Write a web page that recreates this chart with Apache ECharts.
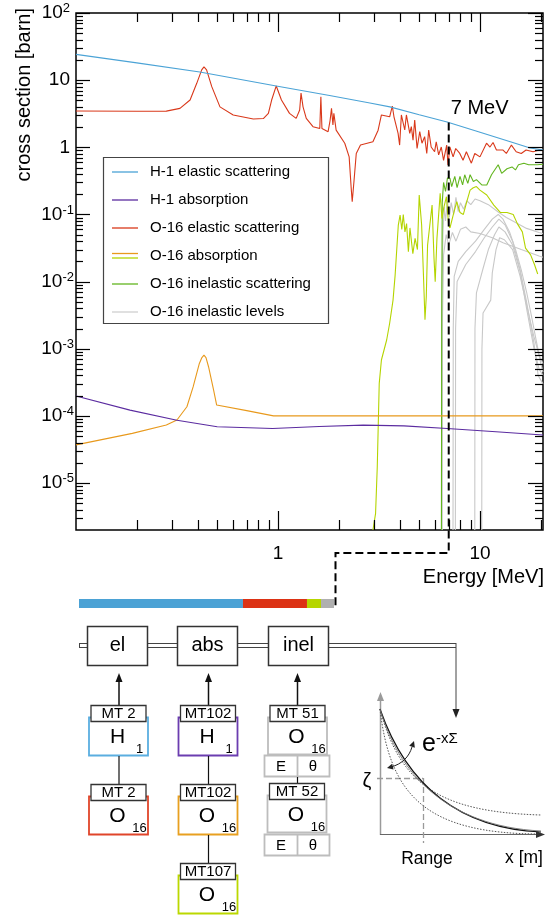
<!DOCTYPE html>
<html><head><meta charset="utf-8">
<script src="https://cdn.jsdelivr.net/npm/echarts@6/dist/echarts.min.js"></script>
<style>html,body{margin:0;padding:0;background:#fff;}#c,#t{position:absolute;left:0;top:0;width:546px;height:916px;}#t{pointer-events:none;}</style>
</head><body><div id="c"></div><div id="t"></div>
<script>
const FONT = '"Liberation Sans", Arial, Helvetica, sans-serif';

// ---------------- data (energy [MeV], cross section [barn]) ----------------
const h1Elastic = [[0.1,24.2],[0.2,18.1],[0.41,13.2],[0.98,8.2],[1.8,5.9],[2.85,4.57],[3.58,4.0],[5,3.06],[6.87,2.38],[10,1.67],[14,1.22],[17.7,0.975],[20.5,0.91]];
const h1Absorption = [[0.1,1.98e-4],[0.185,1.22e-4],[0.316,8.6e-5],[0.5,6.9e-5],[0.94,6.5e-5],[1.6,6.95e-5],[2.64,7.3e-5],[4.2,7.1e-5],[6.87,6.5e-5],[12,5.8e-5],[20.5,5.2e-5]];
const o16Elastic = [[0.1,3.47],[0.2,3.44],[0.28,3.46],[0.327,3.8],[0.367,5.06],[0.396,8.97],[0.419,14.2],[0.43,15.8],[0.443,14.2],[0.47,8.0],[0.516,4.0],[0.6,3.03],[0.755,2.64],[0.846,2.68],[0.896,3.2],[0.93,5.06],[0.98,8.2],[1.04,5.06],[1.14,3.2],[1.23,2.7],[1.28,3.6],[1.30,6.4],[1.33,4.0],[1.38,2.7],[1.49,2.03],[1.61,1.9],[1.63,5.66],[1.65,1.9],[1.77,1.71],[1.81,2.5],[1.84,3.8],[1.87,2.16],[1.89,3.2],[1.94,1.8],[2.14,1.15],[2.25,0.72],[2.30,0.26],[2.33,0.155],[2.38,0.326],[2.44,0.81],[2.56,1.08],[2.95,1.21],[3.13,1.8],[3.25,3.03],[3.57,2.85],[3.68,4.12],[3.75,2.85],[3.93,1.61],[4.0,1.08],[4.08,3.03],[4.24,1.81],[4.32,3.03],[4.49,1.61],[4.57,2.03],[4.66,1.28],[4.75,2.55],[4.88,0.96],[5.03,1.71],[5.16,1.15],[5.32,1.44],[5.45,0.81],[5.57,1.8],[5.73,1.01],[5.96,0.86],[6.07,1.21],[6.24,0.77],[6.43,1.01],[6.6,0.64],[6.84,1.08],[6.94,0.546],[7.09,1.01],[7.36,0.72],[7.58,0.96],[7.94,0.81],[8.24,0.64],[8.56,0.86],[9.06,0.58],[9.42,0.81],[9.99,0.72],[10.77,1.15],[11.2,1.01],[11.6,1.18],[12.06,0.91],[13.0,0.91],[13.5,0.81],[14.3,1.08],[15.1,0.86],[16.0,0.81],[16.9,0.91],[18.3,0.86],[19.7,0.91],[20.5,0.89]];
const o16Capture = [[0.1,3.7e-5],[0.19,5.5e-5],[0.28,7.3e-5],[0.316,8.7e-5],[0.354,1.37e-4],[0.38,2.7e-4],[0.408,6.05e-4],[0.42,7.4e-4],[0.43,8.05e-4],[0.44,7.4e-4],[0.453,5.4e-4],[0.48,2.43e-4],[0.497,1.45e-4],[0.7,1.2e-4],[0.95,1.0e-4],[2,1.0e-4],[5,1.0e-4],[10,1.0e-4],[20.5,1.0e-4]];
const o16Alpha = [[2.95,2e-6],[3.04,3.5e-6],[3.1,1.75e-5],[3.17,3.05e-4],[3.25,6.8e-4],[3.45,1.35e-3],[3.57,2.4e-3],[3.71,5.3e-3],[3.8,0.0125],[3.94,0.0695],[4.02,0.098],[4.1,0.06],[4.17,0.1],[4.25,0.055],[4.33,0.073],[4.42,0.0279],[4.5,0.063],[4.65,0.026],[4.77,0.044],[4.9,0.03],[5.0,0.195],[5.14,0.0695],[5.25,0.012],[5.34,0.0027],[5.42,0.006],[5.5,0.035],[5.56,0.035],[5.79,0.138],[5.92,0.022],[6.0,0.01],[6.12,0.044],[6.35,0.206],[6.48,0.0868],[6.61,0.124],[6.82,0.184],[6.99,0.0695],[7.1,0.063],[7.38,0.1],[7.67,0.155],[7.96,0.107],[8.27,0.1],[8.6,0.155],[8.93,0.23],[9.26,0.25],[9.6,0.26],[9.99,0.23],[10.8,0.195],[11.7,0.138],[12.6,0.107],[13.6,0.107],[14.6,0.1],[15.3,0.073],[16.2,0.055],[16.8,0.0315],[17.8,0.025],[18.6,0.018],[19.3,0.013]];
const o16Inelastic = [[6.44,2e-6],[6.46,2e-3],[6.5,0.15],[6.6,0.3],[6.75,0.22],[6.9,0.35],[7.1,0.345],[7.24,0.26],[7.5,0.37],[7.7,0.25],[7.96,0.37],[8.2,0.275],[8.4,0.39],[8.7,0.29],[8.93,0.39],[9.27,0.31],[9.6,0.33],[10.2,0.275],[10.8,0.275],[11.4,0.39],[12.3,0.55],[12.8,0.41],[13.6,0.48],[14.4,0.51],[14.98,0.46],[15.5,0.55],[16.5,0.58],[17.4,0.55],[19.2,0.55],[20.5,0.56]];
const o16Level1 = [[6.45,2e-6],[6.47,5e-3],[6.55,0.05],[6.65,0.13],[6.75,0.08],[6.9,0.16],[7.05,0.09],[7.2,0.15],[7.4,0.1],[7.6,0.18],[7.8,0.11],[8.0,0.15],[8.3,0.12],[8.6,0.16],[9.0,0.14],[9.45,0.17],[10,0.16],[11,0.14],[12.4,0.107],[13.5,0.09],[15,0.076],[17,0.062],[19.6,0.054],[20.5,0.052]];
const o16Level2 = [[6.5,2e-6],[6.52,3e-3],[6.6,0.025],[6.8,0.05],[7.0,0.035],[7.3,0.054],[7.6,0.04],[8.0,0.06],[8.5,0.065],[9.0,0.055],[10,0.052],[11.5,0.045],[13,0.038],[16,0.03],[19.6,0.024],[20.5,0.023]];
const o16Level3 = [[7.35,2e-6],[7.37,2e-3],[7.45,0.012],[7.8,0.02],[8.5,0.028],[9.5,0.04],[10.5,0.06],[11.5,0.085],[12.3,0.1],[13,0.085],[14,0.055],[15,0.03],[16,0.015],[17,0.007],[18,3e-3],[19,1.3e-3],[20,6e-4],[20.5,4.5e-4]];
const o16Level4 = [[7.55,2e-6],[7.57,2e-3],[7.7,0.01],[8.5,0.018],[9.5,0.028],[10.5,0.045],[11.5,0.065],[12.4,0.085],[13.3,0.07],[14.5,0.04],[15.8,0.015],[17,0.005],[18.5,1.2e-3],[19.4,4e-4],[20.5,3e-4]];
const o16Level5 = [[9.42,2e-6],[9.44,2e-3],[9.6,6.8e-3],[10.4,0.0165],[11,0.03],[11.8,0.05],[12.4,0.065],[13.3,0.055],[14.5,0.035],[15.8,0.014],[17,0.004],[18.5,1e-3],[19.6,5e-4],[20.5,4e-4]];
const o16Level6 = [[10.2,2e-6],[10.22,1e-3],[10.35,3.4e-3],[11.3,5.3e-3],[11.5,0.0135],[12,0.03],[12.5,0.045],[13.2,0.042],[14.5,0.03],[15.8,0.012],[17,0.0045],[18.5,1.5e-3],[19.6,8e-4],[20.5,6e-4]];

const legendLabels = ['H-1 elastic scattering','H-1 absorption','O-16 elastic scattering','O-16 absorption','O-16 inelastic scattering','O-16 inelastic levels'];
const markerEnergy = 7;       // MeV
const markerXs = 2.35;        // barn, H-1 elastic at 7 MeV
const markerLabel = '7 MeV';
const barCategories = ['7 MeV'];
const barShares = [0.643, 0.251, 0.055, 0.051]; // H el, O el, O abs, O inel
const xTickMajor = [1, 10];
const xTickMinor = [0.2,0.3,0.4,0.5,0.6,0.7,0.8,0.9,2,3,4,5,6,7,8,9,20];
const yTickMajor = [1e-5,1e-4,1e-3,1e-2,1e-1,1,10,100];
const yMinorMult = [2,3,4,5,6,7,8,9];

const X_MIN = 0.1, X_MAX = 20.5, Y_MIN = 2e-6, Y_MAX = 100;

const BLUE='#4ba3d6', PURPLE='#5b2ca0', RED='#d9381a', ORANGE='#e8991c', YG='#b4d400', GREEN='#62b51f', GRAY='#c8c8c8';

// ---------------- chart ----------------
const yTickValues = yTickMajor.slice();
for (let d = -6; d <= 1; d++) yMinorMult.forEach(m => { const v = m * Math.pow(10, d); if (v > Y_MIN && v < Y_MAX) yTickValues.push(v); });
const xTickValues = xTickMajor.concat(xTickMinor);
const isDecade = v => { const l = Math.log10(v); return Math.abs(l - Math.round(l)) < 1e-6; };

function yFmt(v){ const l=Math.log10(v), e=Math.round(l); if(Math.abs(l-e)>1e-6) return '';
  if(e===0) return '{p|1}'; if(e===1) return '{p|10}';
  if(e>0) return '{b|10}{sp|'+e+'}'; return '{b|10}{s|-'+(-e)+'}'; }
function xFmt(v){ if(Math.abs(v-1)<1e-6) return '1'; if(Math.abs(v-10)<1e-5) return '10'; return ''; }

function lineSeries(name, data, color, z){
  return {type:'line', name, data, xAxisIndex:0, yAxisIndex:0, showSymbol:false, symbol:'none', z:z||2,
    lineStyle:{color, width:1.1}, itemStyle:{color}, silent:true, animation:false, clip:true};
}
const series = [
  lineSeries('O-16 level 6', o16Level6, GRAY),
  lineSeries('O-16 level 5', o16Level5, GRAY),
  lineSeries('O-16 level 4', o16Level4, GRAY),
  lineSeries('O-16 level 3', o16Level3, GRAY),
  lineSeries('O-16 level 2', o16Level2, GRAY),
  lineSeries('O-16 level 1', o16Level1, GRAY),
  lineSeries('O-16 inelastic scattering', o16Inelastic, GREEN, 3),
  lineSeries('O-16 (n,alpha)', o16Alpha, YG, 3),
  lineSeries('O-16 absorption', o16Capture, ORANGE, 3),
  lineSeries('H-1 absorption', h1Absorption, PURPLE, 3),
  lineSeries('O-16 elastic scattering', o16Elastic, RED, 4),
  lineSeries('H-1 elastic scattering', h1Elastic, BLUE, 5)
];
const barColors = ['#4ba2d5','#dc3214','#b6d600','#b0b0b0'];
barShares.forEach((s, i) => series.push({type:'bar', xAxisIndex:1, yAxisIndex:1, stack:'share', data:[s],
  barWidth:'100%', itemStyle:{color:barColors[i]}, silent:true, animation:false}));

const labelBase = {fontSize:19, fontFamily:FONT, color:'#000'};
const option = {
  animation:false,
  backgroundColor:'#fff',
  grid:[
    {left:76, top:13, width:467, height:517, show:true, borderColor:'#000', borderWidth:1.5, backgroundColor:'transparent', containLabel:false, outerBoundsMode:'none'},
    {left:79, top:599, width:255, height:9, containLabel:false, outerBoundsMode:'none'}
  ],
  xAxis:[
    {type:'log', gridIndex:0, logBase:10, min:X_MIN, max:X_MAX, axisLine:{show:false}, axisTick:{show:false}, splitLine:{show:false}, minorTick:{show:false},
     axisLabel:Object.assign({margin:14, formatter:xFmt}, labelBase)},
    {type:'value', gridIndex:1, min:0, max:1, show:false}
  ],
  yAxis:[
    {type:'log', gridIndex:0, logBase:10, min:Y_MIN, max:Y_MAX, axisLine:{show:false}, axisTick:{show:false}, splitLine:{show:false}, minorTick:{show:false},
     axisLabel:{margin:2, formatter:yFmt, rich:{
       b:{fontSize:19, fontFamily:FONT, color:'#000', lineHeight:22},
       p:{fontSize:19, fontFamily:FONT, color:'#000', lineHeight:22, padding:[0,4,0,0]},
       s:{fontSize:13, fontFamily:FONT, color:'#000', lineHeight:13, verticalAlign:'top'},
       sp:{fontSize:13, fontFamily:FONT, color:'#000', lineHeight:13, verticalAlign:'top', padding:[0,4,0,0]}
     }}},
    {type:'category', gridIndex:1, data:barCategories, show:false}
  ],
  series
};
const chart = echarts.init(document.getElementById('c'), null, {renderer:'canvas'});
chart.setOption(option);

const toPx = (x, y) => chart.convertToPixel({xAxisIndex:0, yAxisIndex:0}, [x, y]);

// ---------------- tick marks: positions from the log axes, drawn on a transparent overlay layer ----------------
const T = [];
function tLine(x1,y1,x2,y2){ T.push({type:'line', shape:{x1,y1,x2,y2}, style:{stroke:'#000', lineWidth:1.2}, silent:true}); }
yTickValues.forEach(v => {
  const pL = toPx(X_MIN, v), pR = toPx(X_MAX, v), m = isDecade(v);
  const y = Math.round(pL[1]) + 0.5;
  tLine(pL[0], y, pL[0] + (m ? 14 : 7), y);
  tLine(pR[0], y, pR[0] - (m ? 15 : 8), y);
});
xTickValues.forEach(v => {
  const pB = toPx(v, Y_MIN), pT = toPx(v, Y_MAX), m = isDecade(v);
  const x = Math.round(pB[0]) + 0.5;
  tLine(x, pB[1], x, pB[1] - (m ? 19 : 10));
  tLine(x, pT[1], x, pT[1] + (m ? 19 : 9));
});
const overlay = echarts.init(document.getElementById('t'), null, {renderer:'canvas'});
overlay.setOption({animation:false, backgroundColor:'transparent', graphic:{elements:T}});

// ---------------- annotations & schematic ----------------
const G = [];
const DARK = '#333';
function gRect(x,y,w,h,stroke,lw,fill,z){G.push({type:'rect', shape:{x,y,width:w,height:h}, style:{stroke, lineWidth:lw, fill:fill===undefined?'#fff':fill}, z:z||50, silent:true});}
function gLine(x1,y1,x2,y2,stroke,lw,dash,z){G.push({type:'line', shape:{x1,y1,x2,y2}, style:{stroke, lineWidth:lw, lineDash:dash||null}, z:z||50, silent:true});}
function gText(x,y,t,size,opt){G.push({type:'text', x, y, z:60, silent:true, style:Object.assign({text:t, fill:'#000', fontSize:size, fontFamily:FONT, align:'center', verticalAlign:'middle', textAlign:'center', textVerticalAlign:'middle'}, opt||{})});}
function gPoly(points, fill, z){G.push({type:'polygon', shape:{points}, style:{fill, stroke:null}, z:z||55, silent:true});}
function head(tx,ty,dx,dy,len,hw,fill){const n=Math.hypot(dx,dy);dx/=n;dy/=n;const bx=tx-dx*len,by=ty-dy*len;
  gPoly([[tx,ty],[bx-dy*hw,by+dx*hw],[bx+dy*hw,by-dx*hw]], fill);}

// axis titles
G.push({type:'text', x:24, y:8, rotation:Math.PI/2, z:60, silent:true,
  style:{text:'cross section [barn]', fill:'#000', fontSize:20, fontFamily:FONT, align:'right', verticalAlign:'middle', textAlign:'right', textVerticalAlign:'middle'}});
gText(544, 577, 'Energy [MeV]', 20, {align:'right', textAlign:'right'});

// legend
gRect(103.5,157.5,225,166,'#444',1.2,'#fff',40);
const legendColors = [[BLUE],[PURPLE],[RED],[ORANGE,YG],[GREEN],['#cfcfcf']];
legendLabels.forEach((lab,i)=>{
  const y = 172 + i*28;
  const cs = legendColors[i];
  if (cs.length===1) gLine(112,y,138,y,cs[0],1.3,null,45);
  else { gLine(112,y-2.5,138,y-2.5,cs[0],1.3,null,45); gLine(112,y+2,138,y+2,cs[1],1.3,null,45); }
  gText(150, y, lab, 15, {align:'left', textAlign:'left'});
});

// marker dashed path
const pTop = toPx(markerEnergy, markerXs);
const pBar = chart.convertToPixel({xAxisIndex:1, yAxisIndex:1}, [barShares.reduce((a,b)=>a+b,0), barCategories[0]]);
G.push({type:'polyline', z:70, silent:true, shape:{points:[[pTop[0],pTop[1]],[pTop[0],553],[pBar[0]+1.5,553],[pBar[0]+1.5,607]]},
  style:{stroke:'#000', lineWidth:2, lineDash:[8,4], fill:null}});
gText(pTop[0]+2, pTop[1]-14, markerLabel, 20, {align:'left', textAlign:'left'});

// rail
gLine(79,643.5,456,643.5,'#444',1,null,45);
gLine(79,647.5,456,647.5,'#444',1,null,45);
gLine(79.5,643,79.5,648,'#444',1,null,45);
gLine(456,643,456,710,'#444',1,null,45);
head(456,718,0,1,9,3.5,'#222');

// top boxes
[['el',87],['abs',177],['inel',268]].forEach(([t,x])=>{ gRect(x+0.5,626.5,60,39,DARK,1.5,'#fff',50); gText(x+30.5,645.5,t,20); });
// arrows up
[119,208.5,297.5].forEach(x=>{ gLine(x,705,x,680,'#111',1.5); head(x,673,0,-1,9,3.5,'#111'); });

function elementBox(cx, yTop, color, mt, sym, mass, h){
  gRect(cx-29.5, yTop+12.5, 59, h||38, color, 1.8, '#fff', 48);
  gRect(cx-27.5, yTop+0.5, 55, 16, DARK, 1.3, '#fff', 52);
  gText(cx, yTop+9, mt, 15);
  gText(cx-1, yTop+32, sym, 21);
  gText(cx+21, yTop+44, mass, 13);
}
// column 1
gLine(119,756,119,784,'#111',1.2);
elementBox(118.5,705,'#5aaee0','MT 2','H','1');
elementBox(118.5,784,'#e0452a','MT 2','O','16');
// column 2
gLine(208.5,756,208.5,784,'#111',1.2);
gLine(208.5,835,208.5,863,'#111',1.2);
elementBox(208,705,'#6b3db0','MT102','H','1');
elementBox(208,784,'#e8a020','MT102','O','16');
elementBox(208,863,'#bbd800','MT107','O','16');
// column 3
function eThetaBox(y){ gRect(264.5,y+0.5,65,21,'#bdbdbd',1.8,'#fff',48); gLine(297.5,y,297.5,y+22,'#bdbdbd',1.8,null,49);
  gText(281,y+11.5,'E',15); gText(313,y+11.5,'θ',15); }
gLine(297.5,777,297.5,784,'#111',1.2);
elementBox(297.5,705,'#bdbdbd','MT 51','O','16',37);
eThetaBox(755);
elementBox(297,783,'#bdbdbd','MT 52','O','16',37);
eThetaBox(834);

// attenuation sketch
gLine(380.5,700,380.5,835,'#9a9a9a',1.5);
head(380.5,692,0,-1,9,3.5,'#9a9a9a');
gLine(380,834.5,537,834.5,'#666',1.2);
head(545,834.5,1,0,9,3.5,'#333');
G.push({type:'bezierCurve', z:52, silent:true, shape:{x1:380,y1:709,cpx1:400,cpy1:785,cpx2:440,cpy2:812,x2:541,y2:815}, style:{stroke:'#555', lineWidth:1, lineDash:[1.5,1.5], fill:null}});
G.push({type:'bezierCurve', z:52, silent:true, shape:{x1:380,y1:709,cpx1:403,cpy1:775,cpx2:450,cpy2:828,x2:541,y2:832}, style:{stroke:'#111', lineWidth:1.2, fill:null}});
G.push({type:'bezierCurve', z:52, silent:true, shape:{x1:380,y1:709,cpx1:398,cpy1:772,cpx2:445,cpy2:826,x2:541,y2:831}, style:{stroke:'#777', lineWidth:0.9, fill:null}});
G.push({type:'bezierCurve', z:52, silent:true, shape:{x1:380,y1:709,cpx1:390,cpy1:795,cpx2:425,cpy2:834,x2:541,y2:834}, style:{stroke:'#555', lineWidth:1, lineDash:[1.5,1.5], fill:null}});
gLine(377,778.5,423,778.5,'#9a9a9a',1.3,[6,3]);
gLine(423.5,778,423.5,843,'#9a9a9a',1.3,[6,3]);
G.push({type:'bezierCurve', z:53, silent:true, shape:{x1:391,y1:767,cpx1:402,cpy1:764,cpx2:409,cpy2:757,x2:412,y2:747}, style:{stroke:'#222', lineWidth:1, fill:null}});
head(387,768,-1,0.25,6,3,'#222');
head(414,741,0.35,-1,6,3,'#222');
gText(367,781,'ζ',20);
G.push({type:'text', x:422, y:744, z:60, silent:true, style:{text:'{e|e}{s|-xΣ}', fill:'#000', fontFamily:FONT, align:'left', verticalAlign:'middle', textAlign:'left', textVerticalAlign:'middle',
  rich:{e:{fontSize:25, fontFamily:FONT, lineHeight:26}, s:{fontSize:15, fontFamily:FONT, lineHeight:15, verticalAlign:'top'}}}});
gText(427,859,'Range',17.5);
gText(524,858,'x [m]',17.5);

chart.setOption({graphic:G});
</script></body></html>
